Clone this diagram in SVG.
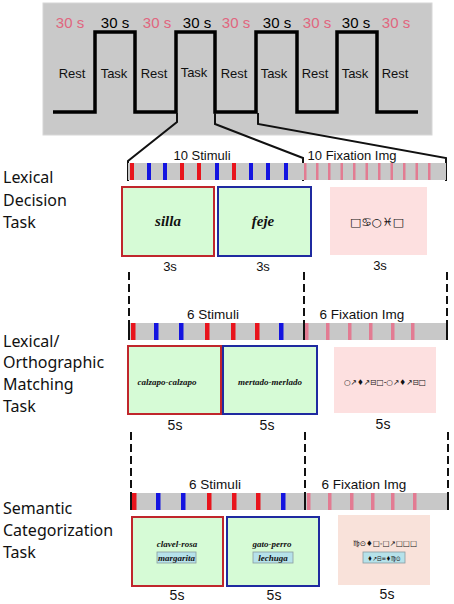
<svg xmlns="http://www.w3.org/2000/svg" width="454" height="604" viewBox="0 0 454 604">
<style>
.sans{font-family:"Liberation Sans",Arial,sans-serif}
.lbl{font-family:"Noto Sans","Open Sans",sans-serif;font-size:16px;fill:#111}
.pk{fill:#e0667f}
.dur{font-family:"Liberation Sans",Arial,sans-serif;font-size:15px;text-anchor:middle}
.rt{font-family:"Liberation Sans",Arial,sans-serif;font-size:13px;text-anchor:middle;fill:#111}
.hd{font-family:"Liberation Sans",Arial,sans-serif;font-size:13px;text-anchor:middle;fill:#111}
.hd2{font-family:"Liberation Sans",Arial,sans-serif;font-size:13.5px;text-anchor:middle;fill:#111}
.fs{font-family:"Liberation Sans",Arial,sans-serif;font-size:14px;text-anchor:middle;fill:#111}
.wd{font-family:"Liberation Serif","Times New Roman",serif;font-weight:bold;font-style:italic;text-anchor:middle;fill:#111}
.sym{font-family:"DejaVu Sans",sans-serif;text-anchor:middle;fill:#111}
.bar{fill:#c8c8c8}
.r{fill:#e8141c}
.b{fill:#1414e0}
.p{fill:#e27b92}
.rb{fill:#d6fbd6;stroke:#c0262c;stroke-width:2}
.bb{fill:#d6fbd6;stroke:#1f2aa0;stroke-width:2}
.ib{fill:#b6e2ea;stroke:#8a9ca0;stroke-width:0.8}
.edge{stroke:#111;stroke-width:2;fill:none}
.dash{stroke:#111;stroke-width:2;fill:none;stroke-dasharray:8 4}
</style>

<g id="block-design">
<rect x="43" y="3" width="389" height="132" fill="#c9c9c9" stroke="#d6d6d6" stroke-width="1"/>
<polyline points="53,112 95,112 95,32 135,32 135,112 176,112 176,32 215,32 215,112 256,112 256,32 297,32 297,112 337,112 337,32 377,32 377,112 418,112" fill="none" stroke="#000" stroke-width="3.5"/>
<text class="dur pk" x="70" y="28">30 s</text>
<text class="dur" x="115" y="28">30 s</text>
<text class="dur pk" x="157" y="28">30 s</text>
<text class="dur" x="197" y="28">30 s</text>
<text class="dur pk" x="236" y="28">30 s</text>
<text class="dur" x="277" y="28">30 s</text>
<text class="dur pk" x="317" y="28">30 s</text>
<text class="dur" x="356" y="28">30 s</text>
<text class="dur pk" x="396" y="28">30 s</text>
<text class="rt" x="72" y="78">Rest</text>
<text class="rt" x="114" y="78">Task</text>
<text class="rt" x="154" y="78">Rest</text>
<text class="rt" x="194" y="77">Task</text>
<text class="rt" x="234" y="78">Rest</text>
<text class="rt" x="274" y="78">Task</text>
<text class="rt" x="315" y="78">Rest</text>
<text class="rt" x="355" y="78">Task</text>
<text class="rt" x="395" y="78">Rest</text>
</g>

<g id="connectors">
<polyline class="edge" points="177,113 177,122 128,161 128,181"/>
<polyline class="edge" points="215,113 215,124 303,158 303,181"/>
<polyline class="edge" points="258,113 258,124 446,158 446,181"/>
<line class="dash" x1="129" y1="272" x2="129" y2="340"/>
<line class="dash" x1="304" y1="272" x2="304" y2="340"/>
<line class="dash" x1="447" y1="272" x2="447" y2="340"/>
<line class="dash" x1="131" y1="432" x2="131" y2="510"/>
<line class="dash" x1="305" y1="432" x2="305" y2="510"/>
<line class="dash" x1="448" y1="432" x2="448" y2="510"/>
</g>

<g id="lexical-decision">
<text class="lbl" x="3" y="183">Lexical</text>
<text class="lbl" x="3" y="206">Decision</text>
<text class="lbl" x="3" y="228">Task</text>
<text class="hd" x="202" y="160">10 Stimuli</text>
<text class="hd" x="352" y="160">10 Fixation Img</text>
<rect class="bar" x="128" y="163" width="318" height="17"/>
<rect class="r" x="130" y="163" width="4" height="17"/>
<rect class="b" x="147" y="163" width="4" height="17"/>
<rect class="b" x="163" y="163" width="4" height="17"/>
<rect class="r" x="180" y="163" width="4" height="17"/>
<rect class="r" x="197" y="163" width="4" height="17"/>
<rect class="b" x="215" y="163" width="4" height="17"/>
<rect class="r" x="232" y="163" width="4" height="17"/>
<rect class="b" x="249" y="163" width="4" height="17"/>
<rect class="b" x="266" y="163" width="4" height="17"/>
<rect class="b" x="284" y="163" width="4" height="17"/>
<rect class="p" x="304" y="163" width="2.5" height="17"/>
<rect class="p" x="316" y="163" width="2.5" height="17"/>
<rect class="p" x="328" y="163" width="2.5" height="17"/>
<rect class="p" x="340.5" y="163" width="2.5" height="17"/>
<rect class="p" x="353" y="163" width="2.5" height="17"/>
<rect class="p" x="365.5" y="163" width="2.5" height="17"/>
<rect class="p" x="378" y="163" width="2.5" height="17"/>
<rect class="p" x="390.5" y="163" width="2.5" height="17"/>
<rect class="p" x="403" y="163" width="2.5" height="17"/>
<rect class="p" x="415.5" y="163" width="2.5" height="17"/>
<rect class="p" x="428" y="163" width="2.5" height="17"/>
<rect class="rb" x="122" y="187" width="92" height="69"/>
<rect class="bb" x="218" y="187" width="93" height="69"/>
<rect x="330" y="187" width="97" height="68" fill="#fde0e0"/>
<text class="wd" x="168" y="226" font-size="15">silla</text>
<text class="wd" x="263" y="226" font-size="15">feje</text>
<text class="sym" x="377" y="226" font-size="11" textLength="54" lengthAdjust="spacingAndGlyphs">□♋○♓□</text>
<text class="hd" x="170" y="271">3s</text>
<text class="hd" x="263" y="271">3s</text>
<text class="hd" x="380" y="270">3s</text>
</g>

<g id="lexical-orthographic">
<text class="lbl" x="3" y="347">Lexical/</text>
<text class="lbl" x="3" y="368">Orthographic</text>
<text class="lbl" x="3" y="390">Matching</text>
<text class="lbl" x="3" y="412">Task</text>
<text class="hd2" x="213" y="319">6 Stimuli</text>
<text class="hd2" x="362" y="319">6 Fixation Img</text>
<rect class="bar" x="129" y="323" width="318" height="17"/>
<rect class="r" x="131" y="323" width="4.5" height="17"/>
<rect class="b" x="154" y="323" width="4.5" height="17"/>
<rect class="b" x="179" y="323" width="4.5" height="17"/>
<rect class="r" x="205" y="323" width="4.5" height="17"/>
<rect class="r" x="231" y="323" width="4.5" height="17"/>
<rect class="r" x="255" y="323" width="4.5" height="17"/>
<rect class="b" x="279" y="323" width="4.5" height="17"/>
<rect class="p" x="305" y="323" width="3.5" height="17"/>
<rect class="p" x="326" y="323" width="3.5" height="17"/>
<rect class="p" x="348" y="323" width="3.5" height="17"/>
<rect class="p" x="369" y="323" width="3.5" height="17"/>
<rect class="p" x="391" y="323" width="3.5" height="17"/>
<rect class="p" x="411" y="323" width="3.5" height="17"/>
<line class="edge" x1="129" y1="323" x2="129" y2="340"/>
<line class="edge" x1="304" y1="323" x2="304" y2="340"/>
<line class="edge" x1="447" y1="323" x2="447" y2="340"/>
<rect class="rb" x="128" y="346" width="93" height="68"/>
<rect class="bb" x="223" y="346" width="94" height="68"/>
<rect x="334" y="347" width="102" height="66" fill="#fde0e0"/>
<text class="wd" x="167" y="385" font-size="9">calzapo-calzapo</text>
<text class="wd" x="270" y="385" font-size="9">mertado-merlado</text>
<text class="sym" x="385" y="385" font-size="8" textLength="82" lengthAdjust="spacingAndGlyphs">○↗♦↗⊟□-○↗♦↗⊟□</text>
<text class="fs" x="175" y="430">5s</text>
<text class="fs" x="267" y="430">5s</text>
<text class="fs" x="383" y="429">5s</text>
</g>

<g id="semantic-categorization">
<text class="lbl" x="3" y="514">Semantic</text>
<text class="lbl" x="3" y="536">Categorization</text>
<text class="lbl" x="3" y="558">Task</text>
<text class="hd2" x="215" y="489">6  Stimuli</text>
<text class="hd2" x="364" y="489">6 Fixation Img</text>
<rect class="bar" x="131" y="493" width="317" height="17"/>
<rect class="r" x="132" y="493" width="4.5" height="17"/>
<rect class="b" x="156" y="493" width="4.5" height="17"/>
<rect class="b" x="181" y="493" width="4.5" height="17"/>
<rect class="r" x="207" y="493" width="4.5" height="17"/>
<rect class="r" x="232" y="493" width="4.5" height="17"/>
<rect class="r" x="256" y="493" width="4.5" height="17"/>
<rect class="b" x="281" y="493" width="4.5" height="17"/>
<rect class="p" x="307" y="493" width="3.5" height="17"/>
<rect class="p" x="328" y="493" width="3.5" height="17"/>
<rect class="p" x="350" y="493" width="3.5" height="17"/>
<rect class="p" x="371" y="493" width="3.5" height="17"/>
<rect class="p" x="391" y="493" width="3.5" height="17"/>
<rect class="p" x="413" y="493" width="3.5" height="17"/>
<line class="edge" x1="131" y1="493" x2="131" y2="510"/>
<line class="edge" x1="305" y1="493" x2="305" y2="510"/>
<line class="edge" x1="448" y1="493" x2="448" y2="510"/>
<rect class="rb" x="132" y="517" width="91" height="69"/>
<rect class="bb" x="227" y="517" width="92" height="69"/>
<rect x="338" y="515" width="92" height="70" fill="#f9e2da"/>
<text class="wd" x="177" y="547" font-size="9">clavel-rosa</text>
<rect class="ib" x="157" y="552" width="39" height="11"/>
<text class="wd" x="176.5" y="561" font-size="9">margarita</text>
<text class="wd" x="272" y="547" font-size="9">gato-perro</text>
<rect class="ib" x="253" y="552" width="40" height="11"/>
<text class="wd" x="273" y="561" font-size="9">lechuga</text>
<text class="sym" x="385" y="546" font-size="7.5" textLength="64" lengthAdjust="spacingAndGlyphs">♍⊙♦□-□↗□□□</text>
<rect class="ib" x="363" y="552" width="42" height="11"/>
<text class="sym" x="384" y="560.5" font-size="7" textLength="33" lengthAdjust="spacingAndGlyphs">♦↗⊟=♦♍⊙</text>
<text class="fs" x="177" y="600">5s</text>
<text class="fs" x="274" y="600">5s</text>
<text class="fs" x="387" y="599">5s</text>
</g>
</svg>
